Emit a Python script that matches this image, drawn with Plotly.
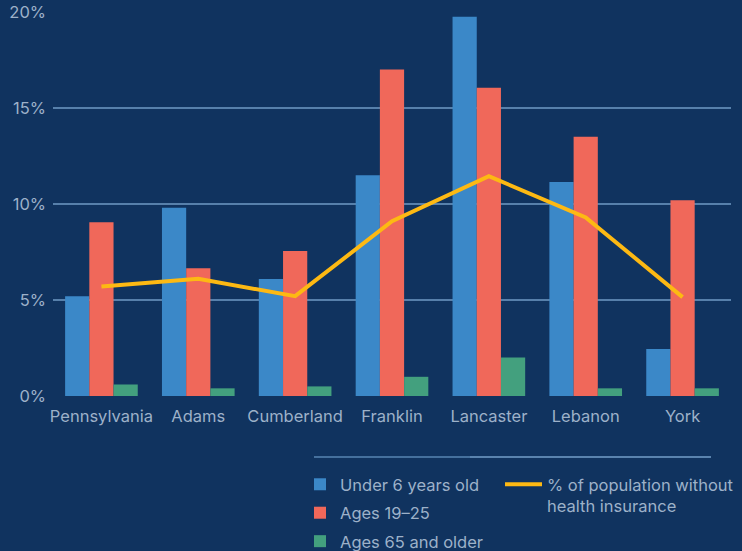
import plotly.graph_objects as go

categories = ["Pennsylvania", "Adams", "Cumberland", "Franklin", "Lancaster", "Lebanon", "York"]
under6 = [5.2, 9.8, 6.1, 11.5, 19.75, 11.15, 2.45]
ages19_25 = [9.05, 6.65, 7.55, 17.0, 16.05, 13.5, 10.2]
ages65 = [0.6, 0.4, 0.5, 1.0, 2.0, 0.4, 0.4]
uninsured = [5.7, 6.1, 5.2, 9.1, 11.45, 9.3, 5.15]
y_ticks = [0, 5, 10, 15, 20]
y_tick_labels = [f"{v}%" for v in y_ticks]

BG = "#10335F"
GRID = "#5780AB"
TXT = "#9DB1C9"
FONT = "Inter"
FS = 16.5

fig = go.Figure()
fig.add_trace(go.Bar(x=categories, y=under6, name="Under 6 years old",
                     marker=dict(color="#3B88C8", line=dict(width=0)),
                     legend="legend", legendgroup="a"))
fig.add_trace(go.Bar(x=categories, y=ages19_25, name="Ages 19\u201325",
                     marker=dict(color="#F0685A", line=dict(width=0)),
                     legend="legend", legendgroup="b"))
fig.add_trace(go.Bar(x=categories, y=ages65, name="Ages 65 and older",
                     marker=dict(color="#43A07E", line=dict(width=0)),
                     legend="legend", legendgroup="c"))
fig.add_trace(go.Scatter(x=categories, y=uninsured, mode="lines",
                         name="% of population without<br>health insurance",
                         line=dict(color="#FDB913", width=4),
                         legend="legend2"))

fig.update_layout(
    width=742, height=551,
    margin=dict(l=53, r=11, t=12, b=155, autoexpand=False),
    paper_bgcolor=BG, plot_bgcolor=BG,
    barmode="group", bargap=0.25, bargroupgap=0,
    font=dict(family=FONT, size=FS, color=TXT),
    showlegend=True,
    legend=dict(x=(300 - 53) / 678, xanchor="left", y=-0.185, yanchor="top",
                orientation="v", bgcolor="rgba(0,0,0,0)", tracegroupgap=4,
                font=dict(family=FONT, size=FS, color=TXT)),
    legend2=dict(x=(500 - 53) / 678, xanchor="left", y=-0.185, yanchor="top",
                 orientation="v", bgcolor="rgba(0,0,0,0)", valign="top",
                 itemwidth=37,
                 font=dict(family=FONT, size=FS, color=TXT)),
    xaxis=dict(showgrid=False, showline=False, zeroline=False, ticks="",
               automargin=False, ticklabelstandoff=8, range=[-0.5, 6.5],
               tickfont=dict(family=FONT, size=FS, color=TXT)),
    yaxis=dict(range=[0, 20], tickmode="array", tickvals=y_ticks, ticktext=y_tick_labels,
               showgrid=True, gridcolor=GRID, gridwidth=2, automargin=False,
               zeroline=False, showline=False, ticks="",
               ticklabelstandoff=6,
               tickfont=dict(family=FONT, size=FS, color=TXT)),
    shapes=[
        dict(type="line", xref="paper", yref="paper",
             x0=(314 - 53) / 678, x1=(470 - 53) / 678, y0=-61 / 384, y1=-61 / 384,
             line=dict(color="#45709D", width=2)),
        dict(type="line", xref="paper", yref="paper",
             x0=(470 - 53) / 678, x1=(711 - 53) / 678, y0=-61 / 384, y1=-61 / 384,
             line=dict(color="#5A83AE", width=2)),
    ],
)

fig.write_html("out.html")
